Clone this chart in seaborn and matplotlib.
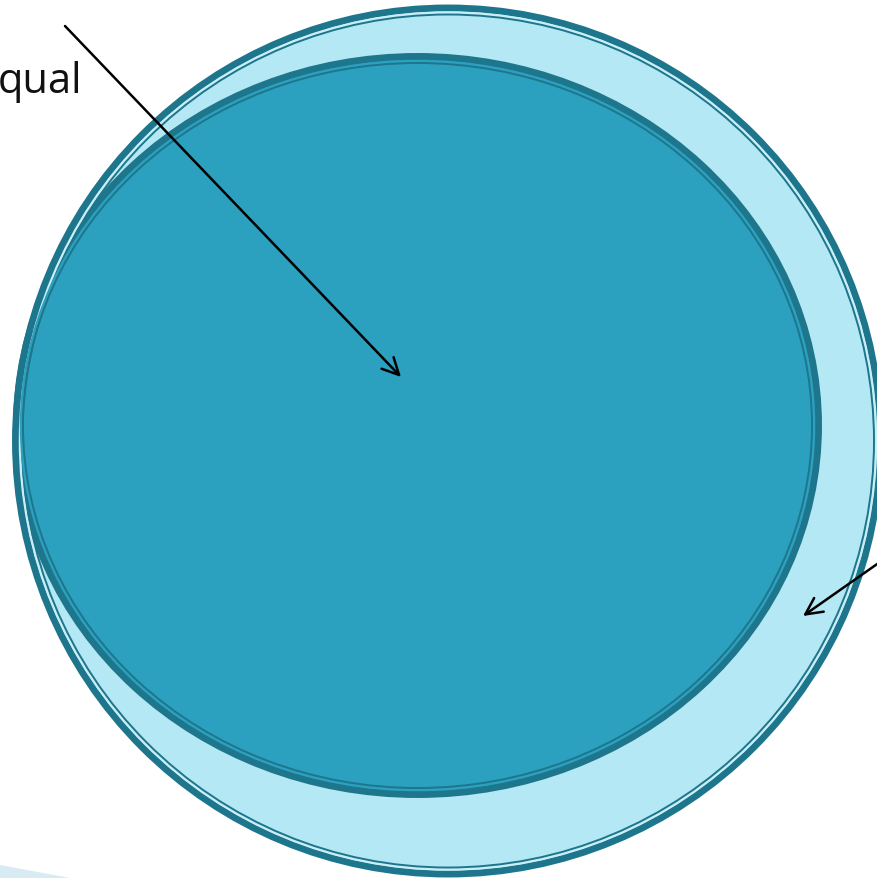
import matplotlib.pyplot as plt
import seaborn as sns
from matplotlib.patches import Ellipse, Polygon

# shapes in pixel space: (center x, center y, width, height)
outer_shape = [448, 442, 872, 873]
inner_shape = [417.5, 426.5, 809, 745]

# arrows: (start, end)
arrow_starts = [(65, 27), (880, 563)]
arrow_ends = [(401, 378), (803, 617)]

label_text = "qual"

dark = "#1e768c"
outer_fill = "#b4e8f4"
inner_fill = "#2ca0bf"


def double_ring(ax, cx, cy, w, h, fill, gap_color):
    # thick dark band, thin light gap, thin dark line
    ax.add_patch(Ellipse((cx, cy), w - 7, h - 7, facecolor=fill,
                         edgecolor=dark, linewidth=5.0, zorder=2))
    ax.add_patch(Ellipse((cx, cy), w - 16, h - 16, facecolor="none",
                         edgecolor=gap_color, linewidth=1.8, zorder=3))
    ax.add_patch(Ellipse((cx, cy), w - 20, h - 20, facecolor="none",
                         edgecolor=dark, linewidth=1.4, zorder=3))


def main():
    sns.set_style("white")
    fig = plt.figure(figsize=(8.77, 8.79), dpi=100)
    ax = fig.add_axes([0, 0, 1, 1])
    ax.set_xlim(0, 877)
    ax.set_ylim(879, 0)
    ax.set_axis_off()

    # faint decorative wedge in the lower-left corner
    ax.add_patch(Polygon([(0, 866), (70, 879), (0, 879)], closed=True,
                         facecolor="#d8ebf2", edgecolor="none", zorder=1))

    double_ring(ax, *outer_shape, fill=outer_fill, gap_color="#c9eef7")
    double_ring(ax, *inner_shape, fill=inner_fill, gap_color=inner_fill)

    for start, end in zip(arrow_starts, arrow_ends):
        ax.annotate("", xy=end, xytext=start, zorder=5,
                    arrowprops=dict(arrowstyle="->", color="black", lw=1.8,
                                    mutation_scale=30, shrinkA=0, shrinkB=0))

    ax.text(82, 82, label_text, ha="right", va="center", fontsize=30,
            family=["Open Sans", "DejaVu Sans"], color="#111111")

    fig.savefig("out.png", dpi=100)


if __name__ == "__main__":
    main()
